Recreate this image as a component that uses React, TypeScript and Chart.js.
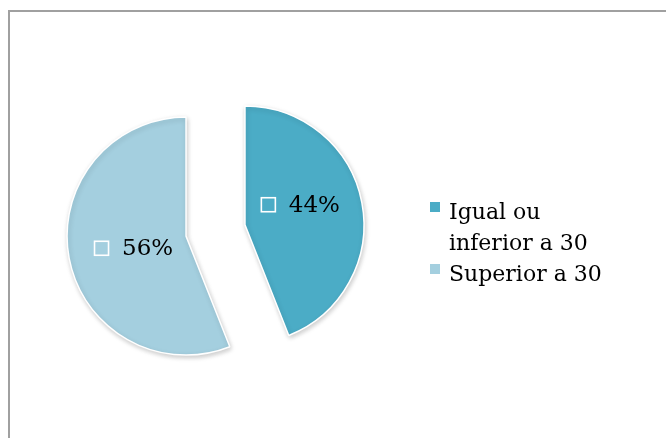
import React, { useEffect, useRef } from "react";
import { Chart, registerables } from "chart.js";

Chart.register(...registerables);

const categories = ["Igual ou inferior a 30", "Superior a 30"];
const values = [44, 56];
const percentLabels = ["44%", "56%"];
const colors = ["#4BACC6", "#A4CFDF"];

const EXPLODE = 30;
const RADIUS = 119;
const FONT = "'DejaVu Serif', 'Liberation Serif', serif";
const labelNudge = [
  [-3, -9],
  [6, 1],
];

const explodePlugin = {
  id: "explode",
  afterDatasetUpdate(chart: any, args: any) {
    const meta = chart.getDatasetMeta(args.index);
    meta.data.forEach((arc: any) => {
      const mid = (arc.startAngle + arc.endAngle) / 2;
      arc.x += Math.cos(mid) * EXPLODE;
      arc.y += Math.sin(mid) * EXPLODE;
    });
  },
  beforeDatasetDraw(chart: any) {
    const ctx = chart.ctx;
    ctx.save();
    ctx.shadowColor = "rgba(0,0,0,0.2)";
    ctx.shadowBlur = 5;
    ctx.shadowOffsetX = 1;
    ctx.shadowOffsetY = 2;
  },
  afterDatasetDraw(chart: any) {
    chart.ctx.restore();
  },
};

const labelPlugin = {
  id: "sliceLabels",
  afterDatasetsDraw(chart: any) {
    const ctx = chart.ctx;
    const meta = chart.getDatasetMeta(0);
    ctx.save();
    ctx.font = `23px ${FONT}`;
    ctx.textBaseline = "middle";
    meta.data.forEach((arc: any, i: number) => {
      const pos = arc.tooltipPosition(false);
      const px = pos.x + labelNudge[i][0];
      const py = pos.y + labelNudge[i][1];
      const text = percentLabels[i];
      const tw = ctx.measureText(text).width;
      const box = 14;
      const gap = 14;
      const total = box + gap + tw;
      const sx = px - total / 2;
      ctx.strokeStyle = "#FFFFFF";
      ctx.lineWidth = 1.6;
      ctx.strokeRect(sx + 0.5, py - box / 2, box, box);
      ctx.fillStyle = "#000000";
      ctx.fillText(text, sx + box + gap, py + 1);
    });
    ctx.restore();
  },
};

export default function App() {
  const ref = useRef<HTMLCanvasElement | null>(null);

  useEffect(() => {
    if (!ref.current) return;
    const chart = new Chart(ref.current, {
      type: "pie",
      data: {
        labels: categories,
        datasets: [
          {
            data: values,
            backgroundColor: colors,
            borderColor: "#FFFFFF",
            borderWidth: 1.5,
            radius: RADIUS,
          } as any,
        ],
      },
      options: {
        responsive: false,
        animation: false,
        events: [],
        layout: { padding: { left: 0, right: 235, top: 23, bottom: 0 } },
        plugins: {
          legend: { display: false },
          tooltip: { enabled: false },
        },
      },
      plugins: [explodePlugin, labelPlugin],
    });
    return () => chart.destroy();
  }, []);

  return (
    <div
      style={{
        position: "fixed",
        left: 0,
        top: 0,
        width: 666,
        height: 438,
        overflow: "hidden",
        background: "#FFFFFF",
      }}
    >
      <div
        style={{
          position: "absolute",
          left: 8,
          top: 10,
          width: 720,
          height: 500,
          border: "2px solid #A0A0A0",
          boxSizing: "border-box",
        }}
      />
      <canvas
        ref={ref}
        width={666}
        height={438}
        style={{ position: "absolute", left: 0, top: 0, width: 666, height: 438 }}
      />
      <div
        style={{
          position: "absolute",
          left: 430,
          top: 196,
          width: 188,
          fontFamily: FONT,
          fontSize: 22,
          lineHeight: "31px",
          color: "#000",
        }}
      >
        {categories.map((c, i) => (
          <div key={c} style={{ position: "relative", paddingLeft: 19 }}>
            <span
              style={{
                position: "absolute",
                left: 0,
                top: 6,
                width: 10,
                height: 10,
                background: colors[i],
              }}
            />
            {c}
          </div>
        ))}
      </div>
    </div>
  );
}
